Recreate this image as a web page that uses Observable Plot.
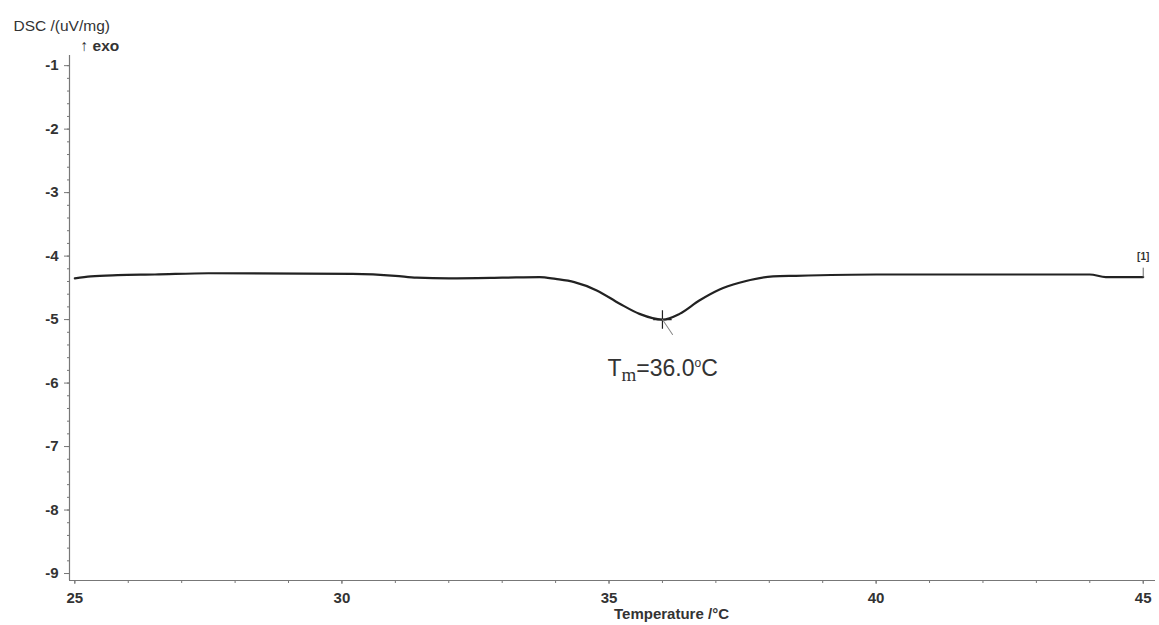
<!DOCTYPE html>
<html>
<head>
<meta charset="utf-8">
<script src="https://cdn.jsdelivr.net/npm/d3@7"></script>
<script src="https://cdn.jsdelivr.net/npm/@observablehq/plot@0.6"></script>
<style>
  html, body { margin: 0; padding: 0; background: #ffffff; }
  #chart svg { display: block; }
</style>
</head>
<body>
<div id="chart"></div>
<script>
// DSC heating scan: temperature (°C) and heat flow (uV/mg)
const temperature = [25.0, 25.3, 25.8, 26.5, 27.5, 30.2, 31.0, 31.4, 32.0, 33.0, 33.7, 34.0, 34.35, 34.77, 35.2, 35.57, 36.0, 36.32, 36.69, 37.06, 37.44, 38.07, 38.5, 40.0, 44.0, 44.3, 45.0];
const dsc =         [-4.35, -4.32, -4.30, -4.29, -4.27, -4.28, -4.31, -4.34, -4.35, -4.34, -4.33, -4.36, -4.41, -4.54, -4.75, -4.91, -5.00, -4.91, -4.70, -4.53, -4.42, -4.32, -4.31, -4.29, -4.29, -4.33, -4.33];

// melting peak annotation
const peakTemperature = 36.0;
const peakValue = -5.0;
const peakLabel = "Tm=36.0°C";
const curveTag = "[1]";

// axis ticks
const xTicks = [25, 30, 35, 40, 45];
const yTicks = [-1, -2, -3, -4, -5, -6, -7, -8, -9];
const xMinorTicks = d3.range(25, 46, 1);
const yMinorTicks = d3.range(-9, -0.8, 0.2).map(v => +v.toFixed(1));

const xDomain = [24.9, 45.23];
const yDomain = [-9.11, -0.84];

const data = temperature.map((t, i) => ({t, v: dsc[i]}));
const peak = [{t: peakTemperature, v: peakValue}];
const last = [data[data.length - 1]];

const axisColor = "#777";
const inkColor = "#222";
const labelColor = "#333";

// short straight stroke drawn from the anchor point
const stroke = {draw(context, length) { context.moveTo(0, 0); context.lineTo(0, -length); }};

const chart = Plot.plot({
  width: 1159,
  height: 625,
  marginLeft: 69,
  marginRight: 4,
  marginTop: 55,
  marginBottom: 45,
  style: {fontFamily: "'Liberation Sans', Arial, sans-serif", background: "#ffffff", overflow: "visible"},
  x: {domain: xDomain},
  y: {domain: yDomain},
  marks: [
    // axis lines
    Plot.ruleX([xDomain[0]], {stroke: axisColor, strokeWidth: 1.2}),
    Plot.ruleY([yDomain[0]], {stroke: axisColor, strokeWidth: 1.2}),
    // minor ticks
    Plot.axisY({ticks: yMinorTicks, tickSize: 2, tickFormat: () => "", label: null, stroke: axisColor}),
    Plot.axisX({ticks: xMinorTicks, tickSize: 3, tickFormat: () => "", label: null, stroke: axisColor}),
    // major ticks with labels
    Plot.axisY({ticks: yTicks, tickSize: 5, tickPadding: 6, tickFormat: d => String(d), label: null,
      stroke: axisColor, fill: labelColor, fontSize: 15, fontWeight: "bold"}),
    Plot.axisX({ticks: xTicks, tickSize: 4, tickPadding: 8, tickFormat: d => String(d), label: null,
      stroke: axisColor, fill: labelColor, fontSize: 15, fontWeight: "bold"}),
    // axis titles
    Plot.text(["DSC /(uV/mg)"], {frameAnchor: "top-left", dx: -56, dy: -36, textAnchor: "start",
      fontSize: 15.5, fill: labelColor}),
    Plot.text(["↑ exo"], {frameAnchor: "top-left", dx: 11, dy: -16, textAnchor: "start",
      fontSize: 15.5, fontWeight: "bold", fill: labelColor}),
    Plot.text(["Temperature /°C"], {frameAnchor: "bottom", dx: 59, dy: 38,
      fontSize: 15, fontWeight: "bold", fill: labelColor}),
    // DSC curve
    Plot.line(data, {x: "t", y: "v", stroke: inkColor, strokeWidth: 2.2, curve: "monotone-x"}),
    // peak marker, leader and label
    Plot.dot(peak, {x: "t", y: "v", symbol: "plus", r: 6, stroke: inkColor, strokeWidth: 1.2}),
    Plot.vector(peak, {x: "t", y: "v", length: 18, rotate: 146, anchor: "start", shape: stroke,
      stroke: "#888", strokeWidth: 1}),
    Plot.text(peak, {x: "t", y: "v", text: () => peakLabel, dx: -55, dy: 49, textAnchor: "start",
      fontSize: 23, fill: labelColor}),
    // curve tag at the end of the trace
    Plot.vector(last, {x: "t", y: "v", length: 9, rotate: 0, anchor: "start", shape: stroke,
      stroke: "#666", strokeWidth: 1}),
    Plot.text(last, {x: "t", y: "v", text: () => curveTag, dy: -20, fontSize: 10, fontWeight: "bold",
      fill: labelColor})
  ]
});

// subscript "m" and raised degree ring in the peak label
d3.select(chart).selectAll("text").filter(function () { return this.textContent === peakLabel; })
  .each(function () {
    const t = d3.select(this);
    t.text(null);
    t.append("tspan").text("T");
    t.append("tspan").attr("font-family", "'Liberation Serif', 'Times New Roman', serif")
      .attr("font-size", "19px").attr("dy", "5px").text("m");
    t.append("tspan").attr("dy", "-5px").text("=36.0");
    t.append("tspan").attr("font-size", "12px").attr("dy", "-9px").text("o");
    t.append("tspan").attr("dy", "9px").text("C");
  });

document.getElementById("chart").appendChild(chart);
</script>
</body>
</html>
